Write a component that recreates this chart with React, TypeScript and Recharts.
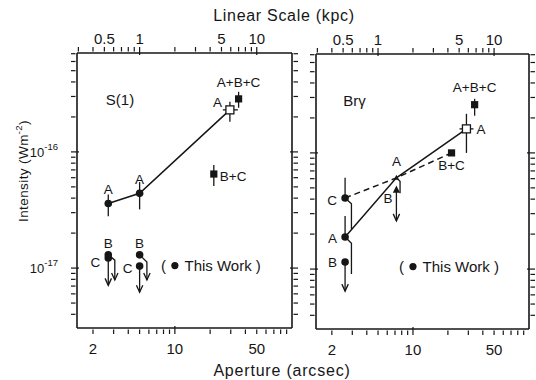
import { ComposedChart, Scatter, XAxis, YAxis, ErrorBar, ReferenceDot } from "recharts";

const INK = "#161616";

// axis ranges and ticks
const apertureDomain = [1.46, 100];
const ARCSEC_PER_KPC = 5;
const kpcDomain = [apertureDomain[0] / ARCSEC_PER_KPC, apertureDomain[1] / ARCSEC_PER_KPC];
const intensityDomain = [3.05e-18, 7.1e-16];

const apertureTicks = [2, 3, 4, 5, 6, 7, 8, 9, 10, 20, 30, 40, 50, 60, 70, 80, 90];
const apertureLabels = [2, 10, 50];
const apertureMajor = [10];
const kpcTicks = [0.3, 0.4, 0.5, 0.6, 0.7, 0.8, 0.9, 1, 2, 3, 4, 5, 6, 7, 8, 9, 10];
const kpcLabels = [0.5, 1, 5, 10];
const kpcMajor = [1, 10];
const intensityTicks = [
  4e-18, 5e-18, 6e-18, 7e-18, 8e-18, 9e-18,
  1e-17, 2e-17, 3e-17, 4e-17, 5e-17, 6e-17, 7e-17, 8e-17, 9e-17,
  1e-16, 2e-16, 3e-16, 4e-16, 5e-16, 6e-16, 7e-16,
];
const intensityLabels = [1e-17, 1e-16];
const intensityExp = ["-17", "-16"];

// ---- S(1) panel ----
const s1LineX = [2.7, 5.0, 29.5];
const s1LineY = [3.6e-17, 4.4e-17, 2.3e-16];
const s1DotX = [2.7, 5.0];
const s1DotY = [3.6e-17, 4.4e-17];
const s1DotLo = [2.8e-17, 3.2e-17];
const s1DotHi = [4.3e-17, 5.5e-17];
const s1OpenX = [29.5];
const s1OpenY = [2.3e-16];
const s1OpenXLo = [25.7];
const s1OpenXHi = [34.5];
const s1OpenLo = [1.82e-16];
const s1OpenHi = [2.7e-16];
const s1SqX = [35, 21.5];
const s1SqY = [2.86e-16, 6.45e-17];
const s1SqLo = [2.4e-16, 5.1e-17];
const s1SqHi = [3.29e-16, 7.7e-17];
const s1LimX = [2.7, 2.7, 5.0, 5.0];
const s1LimY = [1.3e-17, 1.22e-17, 1.3e-17, 1.04e-17];
const s1ArrowX = [2.7, 5.0];
const s1ArrowFrom = [1.22e-17, 1.04e-17];
const s1ArrowTo = [7.1e-18, 6.2e-18];
const s1HookA_X = [2.7, 3.07, 3.07];
const s1HookA_Y = [1.3e-17, 1.17e-17, 7.9e-18];
const s1HookB_X = [5.0, 5.77, 5.77];
const s1HookB_Y = [1.3e-17, 1.13e-17, 7.9e-18];

// ---- Br gamma panel ----
const brLineX = [2.6, 7.2, 28.9];
const brLineY = [1.89e-17, 6.1e-17, 1.61e-16];
const brDashX = [2.6, 7.2, 21.5];
const brDashY = [4.09e-17, 6.1e-17, 1.0e-16];
const brDotX = [2.6, 2.6];
const brDotY = [4.09e-17, 1.89e-17];
const brDotLo = [4.09e-17, 1.89e-17];
const brDotHi = [6.1e-17, 2.86e-17];
const brLimX = [2.6];
const brLimY = [1.15e-17];
const brOpenX = [28.9];
const brOpenY = [1.61e-16];
const brOpenXLo = [25.2];
const brOpenXHi = [33.2];
const brOpenLo = [1.0e-16];
const brOpenHi = [2.17e-16];
const brSqX = [34, 21.5];
const brSqY = [2.6e-16, 1.0e-16];
const brSqLo = [2.09e-16, 1.0e-16];
const brSqHi = [2.92e-16, 1.0e-16];
const brTriX = [7.2];
const brTriY = [4.8e-17];
const brSmallTriX = [7.2];
const brSmallTriY = [6.1e-17];
const brArrowX = [2.6, 7.2];
const brArrowFrom = [1.15e-17, 4.8e-17];
const brArrowTo = [6.46e-18, 2.6e-17];
const brBraceC_X = [2.6, 2.95, 2.95];
const brBraceC_Y = [4.09e-17, 3.64e-17, 2.21e-17];
const brBraceA_X = [2.6, 2.95, 2.95];
const brBraceA_Y = [1.89e-17, 1.67e-17, 9.06e-18];
const brBraceMid_X = [7.2, 7.74, 7.74];
const brBraceMid_Y = [6.1e-17, 5.7e-17, 4.5e-17];

type Pt = { x: number; y: number; ex?: number[]; ey?: number[]; head?: boolean };

const points = (xs: number[], ys: number[], lo?: number[], hi?: number[], xlo?: number[], xhi?: number[]): Pt[] =>
  xs.map((x, i) => ({
    x,
    y: ys[i],
    ey: lo && hi ? [ys[i] - lo[i], hi[i] - ys[i]] : undefined,
    ex: xlo && xhi ? [x - xlo[i], xhi[i] - x] : undefined,
  }));

const path = (xs: number[], ys: number[], head: boolean): Pt[] =>
  xs.map((x, i) => ({ x, y: ys[i], head: head && i === xs.length - 1 }));

const arrows = (xs: number[], from: number[], to: number[]) =>
  xs.map((x, i) => path([x, x], [from[i], to[i]], true));

// anchors the top (kpc) axis so it gets drawn
const kpcAnchor = kpcLabels.map((k) => ({ x: k, y: 1e-17 }));

// ---- shapes ----
const blank = () => <g />;
const dot = (p: any) => <circle cx={p.cx} cy={p.cy} r={3.8} fill={INK} />;
const openSq = (p: any) => (
  <rect x={p.cx - 4} y={p.cy - 4} width={8} height={8} fill="#fff" stroke={INK} strokeWidth={1.3} />
);
const fillSq = (p: any) => <rect x={p.cx - 3.6} y={p.cy - 3.6} width={7.2} height={7.2} fill={INK} />;
const tri = (s: number) => (p: any) => (
  <path d={`M${p.cx},${p.cy - s} L${p.cx + s * 0.8},${p.cy + s * 0.6} L${p.cx - s * 0.8},${p.cy + s * 0.6} Z`} fill={INK} />
);
const head = (p: any) =>
  p.payload && p.payload.head ? (
    <path d={`M${p.cx - 3.2},${p.cy - 7} L${p.cx},${p.cy} L${p.cx + 3.2},${p.cy - 7}`} stroke={INK} strokeWidth={1.3} fill="none" />
  ) : (
    <g />
  );

// ---- ticks (drawn inward) ----
const tickLen = (v: number, majors: number[]) => (majors.includes(v) ? 8 : 4.5);

const bottomTick = (p: any) => {
  const v = p.payload.value;
  return (
    <g>
      <line x1={p.x} y1={p.y} x2={p.x} y2={p.y - tickLen(v, apertureMajor)} stroke={INK} strokeWidth={1.2} />
      {apertureLabels.includes(v) && (
        <text x={p.x} y={p.y + 20} textAnchor="middle" fontSize={15} fill={INK}>{v}</text>
      )}
    </g>
  );
};

const topTick = (p: any) => {
  const v = p.payload.value;
  return (
    <g>
      <line x1={p.x} y1={p.y} x2={p.x} y2={p.y + tickLen(v, kpcMajor)} stroke={INK} strokeWidth={1.2} />
      {kpcLabels.includes(v) && (
        <text x={p.x} y={p.y - 3} textAnchor="middle" fontSize={15} fill={INK}>{v}</text>
      )}
    </g>
  );
};

const leftTick = (labelled: boolean) => (p: any) => {
  const v = p.payload.value;
  const k = intensityLabels.indexOf(v);
  return (
    <g>
      <line x1={p.x} y1={p.y} x2={p.x + tickLen(v, intensityLabels)} y2={p.y} stroke={INK} strokeWidth={1.2} />
      {labelled && k >= 0 && (
        <text x={p.x - 13} y={p.y + 5} textAnchor="end" fontSize={13} fill={INK}>
          10<tspan dy={-7} fontSize={9.5}>{intensityExp[k]}</tspan>
        </text>
      )}
    </g>
  );
};

const rightTick = (p: any) => {
  const v = p.payload.value;
  return <line x1={p.x} y1={p.y} x2={p.x - tickLen(v, intensityLabels)} y2={p.y} stroke={INK} strokeWidth={1.2} />;
};

const frame = { stroke: INK, strokeWidth: 1.6 };

type Note = [string, number, number, string, number, number?];

type PanelCfg = {
  solid: Pt[];
  dashed?: Pt[];
  dots: Pt[];
  limits: Pt[];
  open: Pt[];
  squares: Pt[];
  tris?: Pt[];
  smallTris?: Pt[];
  paths: Pt[][];
  notes: Note[];
};

const s1Cfg: PanelCfg = {
  solid: points(s1LineX, s1LineY),
  dots: points(s1DotX, s1DotY, s1DotLo, s1DotHi),
  limits: points(s1LimX, s1LimY),
  open: points(s1OpenX, s1OpenY, s1OpenLo, s1OpenHi, s1OpenXLo, s1OpenXHi),
  squares: points(s1SqX, s1SqY, s1SqLo, s1SqHi),
  paths: [...arrows(s1ArrowX, s1ArrowFrom, s1ArrowTo), path(s1HookA_X, s1HookA_Y, true), path(s1HookB_X, s1HookB_Y, true)],
  notes: [
    ["A", 2.7, 3.6e-17, "top", 9],
    ["A", 5.0, 4.4e-17, "top", 9],
    ["B", 2.7, 1.3e-17, "top", 7],
    ["B", 5.0, 1.3e-17, "top", 7],
    ["C", 2.7, 1.12e-17, "left", 8],
    ["C", 5.0, 1.0e-17, "left", 7],
    ["A", 29.5, 2.7e-16, "left", 8],
    ["A+B+C", 35, 2.86e-16, "top", 12],
    ["B+C", 21.5, 6.2e-17, "right", 6],
    ["S(1)", 3.4, 2.8e-16, "center", 0, 15],
  ],
};

const brCfg: PanelCfg = {
  solid: points(brLineX, brLineY),
  dashed: points(brDashX, brDashY),
  dots: points(brDotX, brDotY, brDotLo, brDotHi),
  limits: points(brLimX, brLimY),
  open: points(brOpenX, brOpenY, brOpenLo, brOpenHi, brOpenXLo, brOpenXHi),
  squares: points(brSqX, brSqY, brSqLo, brSqHi),
  tris: points(brTriX, brTriY),
  smallTris: points(brSmallTriX, brSmallTriY),
  paths: [
    ...arrows(brArrowX, brArrowFrom, brArrowTo),
    path(brBraceC_X, brBraceC_Y, false),
    path(brBraceA_X, brBraceA_Y, false),
    path(brBraceMid_X, brBraceMid_Y, false),
  ],
  notes: [
    ["C", 2.6, 3.9e-17, "left", 8],
    ["A", 2.6, 1.85e-17, "left", 8],
    ["B", 2.6, 1.15e-17, "left", 8],
    ["A", 7.2, 6.1e-17, "top", 12],
    ["B", 7.2, 4.1e-17, "left", 4],
    ["A", 28.9, 1.61e-16, "right", 10],
    ["A+B+C", 34, 2.6e-16, "top", 13],
    ["B+C", 21.5, 1.0e-16, "bottom", 8],
    ["Brγ", 3.13, 2.8e-16, "center", 0, 15],
  ],
};

function Panel({ cfg, width, margin, labelled }: { cfg: PanelCfg; width: number; margin: any; labelled: boolean }) {
  const lineStyle = { stroke: INK, strokeWidth: 1.5 };
  return (
    <ComposedChart width={width} height={380} margin={margin}>
      <XAxis type="number" dataKey="x" scale="log" domain={apertureDomain} allowDataOverflow ticks={apertureTicks}
        interval={0} height={1} tickLine={false} tickMargin={0} axisLine={frame} tick={bottomTick} />
      <XAxis xAxisId="kpc" orientation="top" type="number" dataKey="x" scale="log" domain={kpcDomain} allowDataOverflow ticks={kpcTicks}
        interval={0} height={1} tickLine={false} tickMargin={0} axisLine={frame} tick={topTick} />
      <YAxis type="number" dataKey="y" scale="log" domain={intensityDomain} allowDataOverflow ticks={intensityTicks}
        interval={0} width={1} tickLine={false} tickMargin={0} axisLine={frame} tick={leftTick(labelled)} />
      <YAxis yAxisId="r" orientation="right" type="number" dataKey="y" scale="log" domain={intensityDomain} allowDataOverflow ticks={intensityTicks}
        interval={0} width={1} tickLine={false} tickMargin={0} axisLine={frame} tick={rightTick} />

      <Scatter xAxisId="kpc" data={kpcAnchor} shape={blank} isAnimationActive={false} />

      {cfg.dashed && (
        <Scatter data={cfg.dashed} shape={blank} line={{ ...lineStyle, strokeDasharray: "6 4" }} isAnimationActive={false} />
      )}
      <Scatter data={cfg.solid} shape={blank} line={lineStyle} isAnimationActive={false} />
      {cfg.paths.map((pts, i) => (
        <Scatter key={"p" + i} data={pts} shape={head} line={{ stroke: INK, strokeWidth: 1.3 }} isAnimationActive={false} />
      ))}

      <Scatter data={cfg.dots} shape={dot} isAnimationActive={false}>
        <ErrorBar dataKey="ey" direction="y" width={0} stroke={INK} strokeWidth={1.3} />
      </Scatter>
      <Scatter data={cfg.limits} shape={dot} isAnimationActive={false} />
      <Scatter data={cfg.squares} shape={fillSq} isAnimationActive={false}>
        <ErrorBar dataKey="ey" direction="y" width={0} stroke={INK} strokeWidth={1.3} />
      </Scatter>
      <Scatter data={cfg.open} shape={openSq} isAnimationActive={false}>
        <ErrorBar dataKey="ey" direction="y" width={0} stroke={INK} strokeWidth={1.3} />
        <ErrorBar dataKey="ex" direction="x" width={0} stroke={INK} strokeWidth={1.3} />
      </Scatter>
      {cfg.tris && <Scatter data={cfg.tris} shape={tri(4.5)} isAnimationActive={false} />}
      {cfg.smallTris && <Scatter data={cfg.smallTris} shape={tri(3.2)} isAnimationActive={false} />}

      {cfg.notes.map(([text, x, y, pos, off, size], i) => (
        <ReferenceDot key={"n" + i} x={x} y={y} r={0} fill="none" stroke="none" ifOverflow="visible"
          label={{ value: text, position: pos as any, offset: off, fill: INK, fontSize: size || 13.5 }} />
      ))}
      <ReferenceDot x={10} y={1.05e-17} r={3.6} fill={INK} stroke="none" ifOverflow="visible"
        label={{ value: "This Work )", position: "right", offset: 6, fill: INK, fontSize: 15 }} />
      <ReferenceDot x={10} y={1.05e-17} r={0} fill="none" stroke="none" ifOverflow="visible"
        label={{ value: "(", position: "left", offset: 9, fill: INK, fontSize: 15 }} />
    </ComposedChart>
  );
}

export default function App() {
  return (
    <div
      style={{
        position: "absolute", left: 0, top: 0, width: 536, height: 380, background: "#fff",
        fontFamily: '"Liberation Sans", Arial, sans-serif', color: INK,
      }}
    >
      <div style={{ position: "absolute", left: 0, top: 0 }}>
        <Panel cfg={s1Cfg} width={300} margin={{ top: 52, left: 76, right: 7, bottom: 51 }} labelled />
      </div>
      <div style={{ position: "absolute", left: 300, top: 0 }}>
        <Panel cfg={brCfg} width={236} margin={{ top: 53, left: 15, right: 6, bottom: 50 }} labelled={false} />
      </div>
      <div style={{ position: "absolute", left: 284, top: 7, transform: "translateX(-50%)", fontSize: 16, letterSpacing: 0.7, whiteSpace: "nowrap" }}>
        Linear Scale (kpc)
      </div>
      <div style={{ position: "absolute", left: 282, top: 362, transform: "translateX(-50%)", fontSize: 16, letterSpacing: 0.8, whiteSpace: "nowrap" }}>
        Aperture (arcsec)
      </div>
      <div
        style={{
          position: "absolute", left: 22, top: 171, transform: "translate(-50%, -50%) rotate(-90deg)",
          fontSize: 13.5, letterSpacing: 0.4, whiteSpace: "nowrap",
        }}
      >
        Intensity (Wm<sup style={{ fontSize: 9.5 }}>-2</sup>)
      </div>
    </div>
  );
}
